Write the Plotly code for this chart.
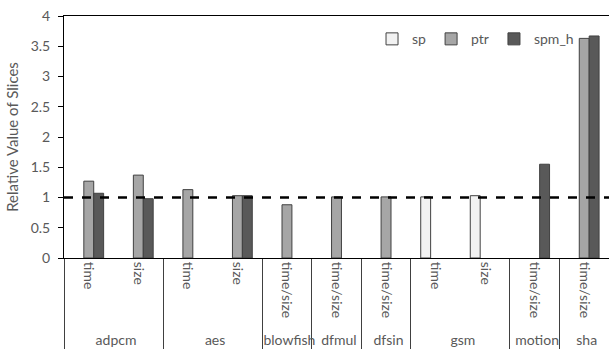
import plotly.graph_objects as go

groups = ["adpcm", "adpcm", "aes", "aes", "blowfish", "dfmul", "dfsin", "gsm", "gsm", "motion", "sha"]
subs = ["time", "size", "time", "size", "time/size", "time/size", "time/size", "time", "size", "time/size", "time/size"]

sp = [None, None, None, None, None, None, None, 1.01, 1.03, None, None]
ptr = [1.27, 1.37, 1.13, 1.03, 0.88, 1.01, 1.01, None, None, None, 3.63]
spm_h = [1.07, 0.98, None, 1.03, None, None, None, None, None, 1.55, 3.67]

series = [("sp", sp, "#F2F2F2"), ("ptr", ptr, "#A6A6A6"), ("spm_h", spm_h, "#595959")]

FONT = "Lato"
TXT = "#595959"

fig = go.Figure()
for name, vals, col in series:
    fig.add_trace(go.Bar(
        name=name, x=[groups, subs], y=vals,
        marker=dict(color=col, line=dict(color="#404040", width=1)),
    ))

fig.add_shape(type="line", xref="paper", yref="y", x0=0, x1=1, y0=1, y1=1,
              line=dict(color="black", width=2.5, dash="dash"))

fig.update_layout(
    width=609, height=354,
    margin=dict(l=64, r=0, t=16, b=96),
    paper_bgcolor="white", plot_bgcolor="white",
    barmode="group", bargap=0.4, bargroupgap=0,
    font=dict(family=FONT, size=14, color=TXT),
    showlegend=True,
    legend=dict(orientation="h", x=0.945, xanchor="right", y=0.97, yanchor="top",
                font=dict(family=FONT, size=14, color=TXT), bgcolor="rgba(0,0,0,0)",
                itemwidth=30, tracegroupgap=0),
    xaxis=dict(type="multicategory", showline=True, linecolor="black", linewidth=1,
               mirror=True, ticks="", tickangle=90, showgrid=False,
               showdividers=True, dividercolor="#404040", dividerwidth=1,
               tickfont=dict(family=FONT, size=14, color=TXT)),
    yaxis=dict(range=[0, 4], dtick=0.5, showline=True, linecolor="black", linewidth=1,
               ticks="outside", ticklen=5, tickcolor="black", showgrid=False, zeroline=False,
               ticklabelstandoff=5,
               tickfont=dict(family=FONT, size=14, color=TXT),
               title=dict(text="Relative Value of Slices", font=dict(family=FONT, size=15, color=TXT), standoff=8)),
)

fig.write_html("out.html")
